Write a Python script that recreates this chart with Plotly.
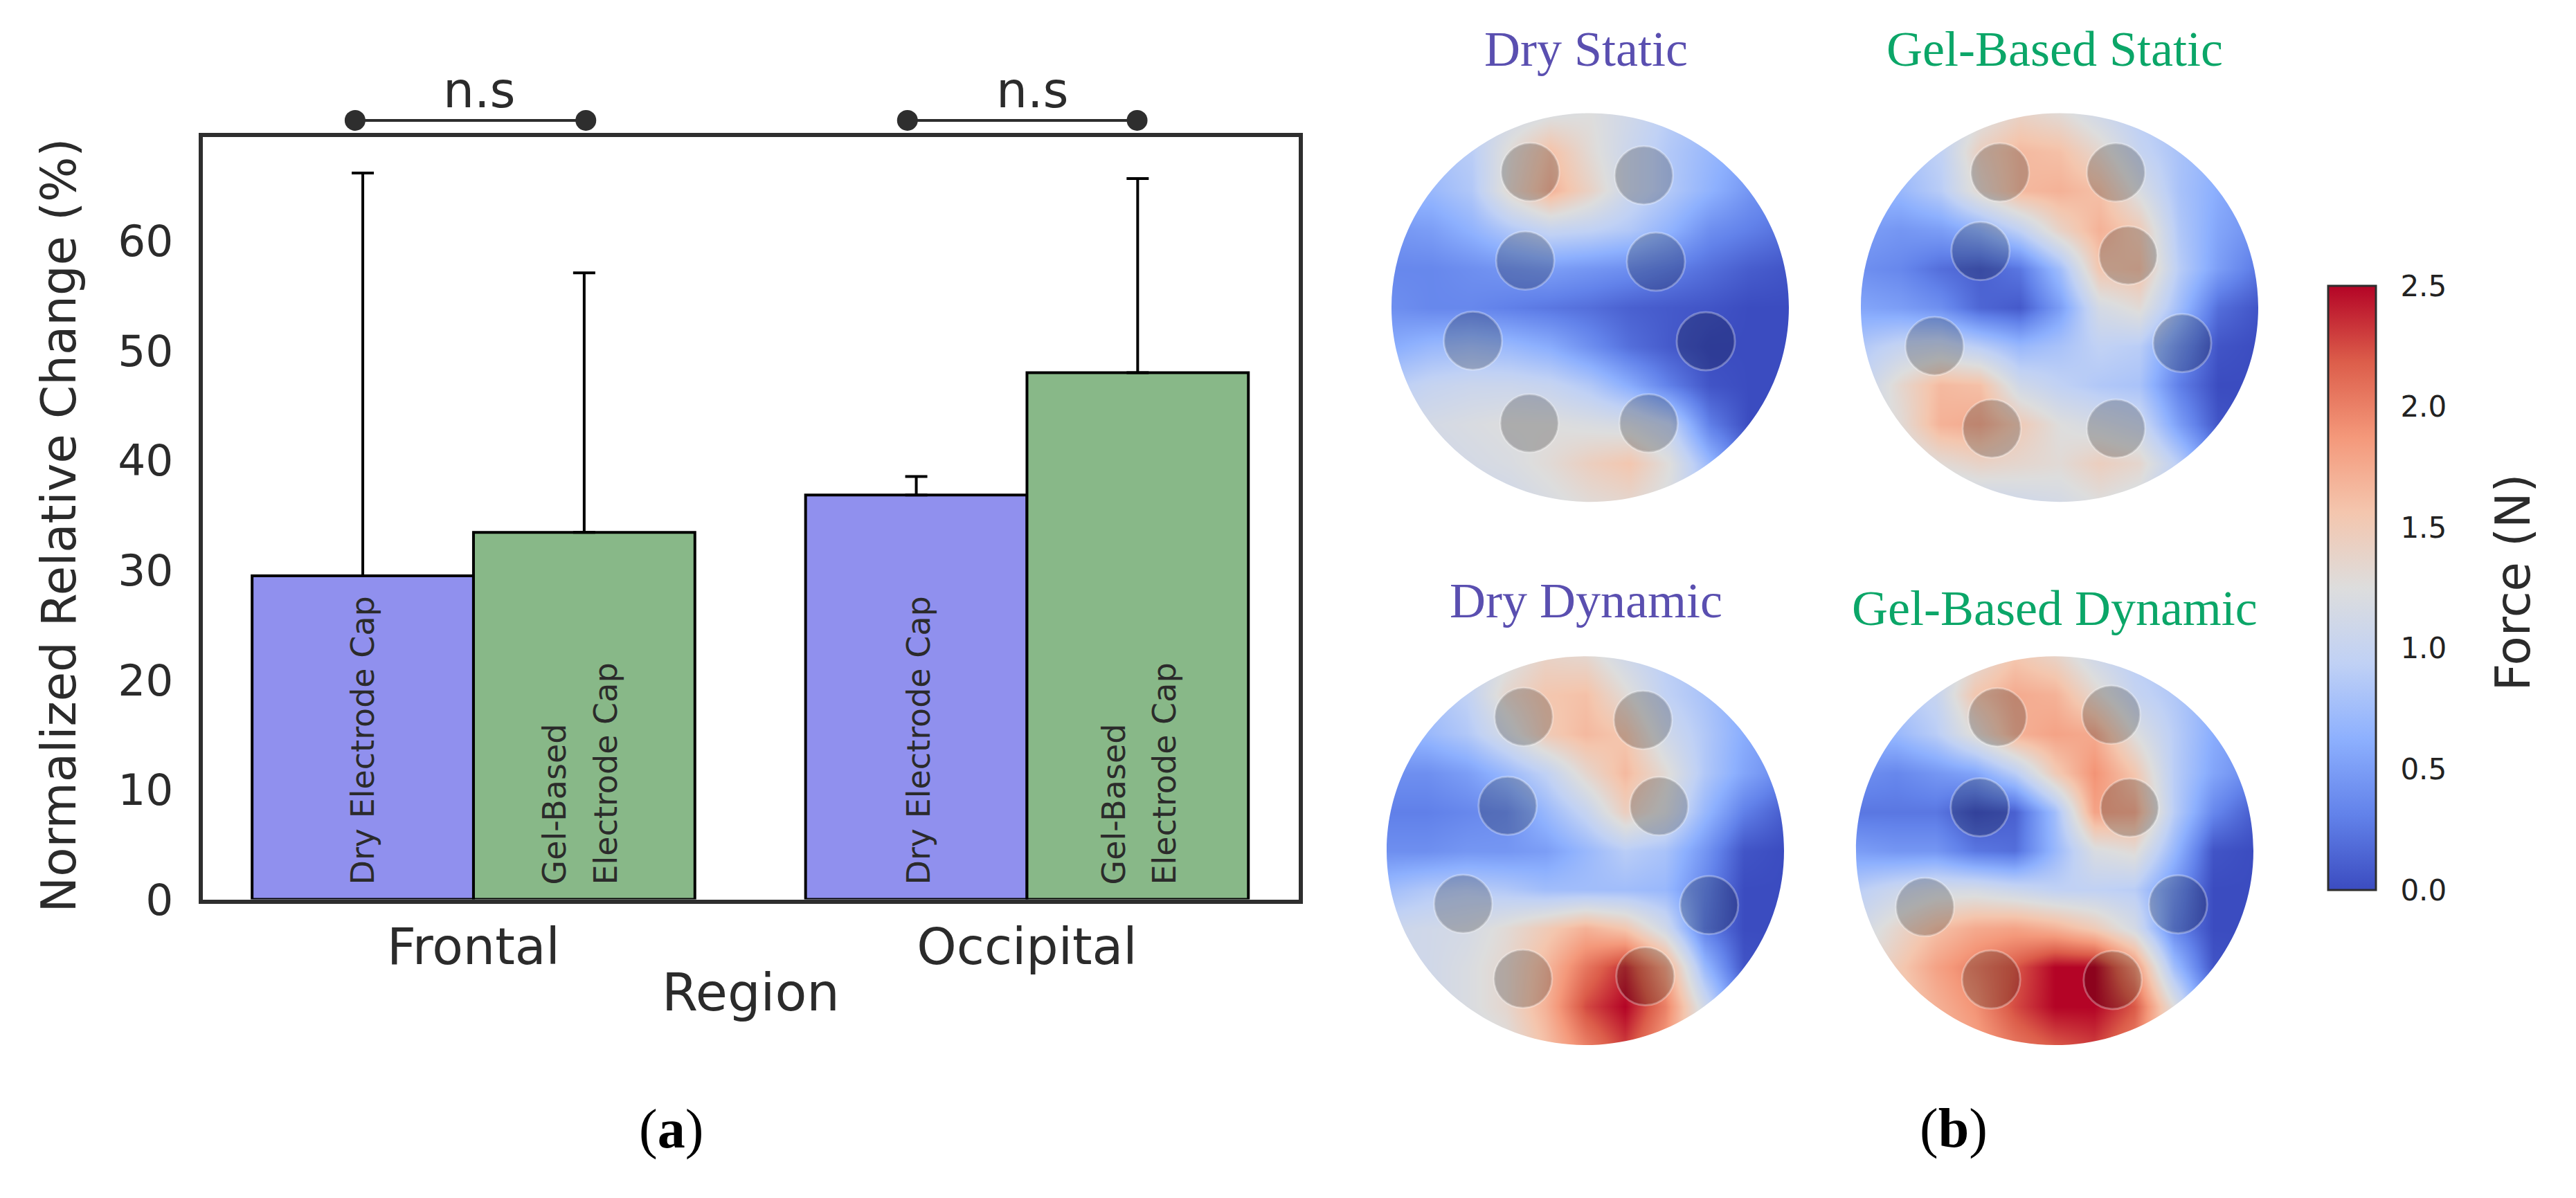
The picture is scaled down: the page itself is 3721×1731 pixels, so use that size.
import plotly.graph_objects as go

W, H = 3721, 1731

# ---- bar chart data ----
regions = ["Frontal", "Occipital"]
dry_values = [29.5, 36.85]
gel_values = [33.45, 48.0]
dry_errors = [36.7, 1.7]
gel_errors = [23.65, 17.7]
bracket_level = 71.0
bracket_frontal = [-0.214, 0.203]
bracket_occipital = [0.784, 1.199]

# ---- force maps: rows top to bottom, columns left to right ----
grid_x = [-1.0, -0.8, -0.6, -0.4, -0.2, 0.0, 0.2, 0.4, 0.6, 0.8, 1.0]
grid_y = [1.0, 0.8, 0.6, 0.4, 0.2, 0.0, -0.2, -0.4, -0.6, -0.8, -1.0]

dry_static = [
    [.9, .9, 1.0, 1.1, 1.2, 1.25, 1.1, .9, .8, .7, .6],
    [.8, .8, .9, 1.3, 1.6, 1.3, 1.05, .85, .7, .55, .45],
    [.7, .7, .85, 1.35, 1.7, 1.4, 1.05, .85, .65, .45, .35],
    [.45, .5, .65, .85, 1.0, .95, .85, .65, .4, .3, .2],
    [.35, .35, .4, .45, .5, .45, .4, .3, .2, .1, .05],
    [.4, .35, .35, .3, .25, .2, .12, .08, .05, 0, 0],
    [.6, .7, .75, .7, .6, .4, .2, .08, 0, 0, 0],
    [.9, 1.0, 1.05, 1.05, 1.0, .85, .6, .3, .05, 0, 0],
    [1.1, 1.15, 1.2, 1.25, 1.25, 1.2, 1.15, .95, .3, 0, 0],
    [1.1, 1.1, 1.15, 1.2, 1.3, 1.45, 1.55, 1.25, .7, .2, 0],
    [1.0, 1.0, 1.05, 1.1, 1.2, 1.3, 1.35, 1.2, .9, .5, .3],
]
gel_static = [
    [.9, .9, 1.0, 1.2, 1.4, 1.3, 1.1, .9, .8, .7, .6],
    [.8, .8, .95, 1.45, 1.65, 1.6, 1.35, 1.0, .8, .65, .5],
    [.65, .7, .9, 1.35, 1.65, 1.7, 1.6, 1.2, .8, .6, .45],
    [.5, .45, .5, .65, .95, 1.4, 1.7, 1.5, .85, .55, .4],
    [.4, .35, .2, .12, .25, .75, 1.55, 1.6, .9, .5, .25],
    [.55, .5, .4, .15, .08, .5, 1.15, 1.3, .75, .2, .05],
    [.85, 1.0, 1.05, .9, .7, .8, .95, .9, .45, .05, 0],
    [1.0, 1.35, 1.65, 1.6, 1.1, .95, .85, .8, .3, 0, 0],
    [1.1, 1.3, 1.7, 1.75, 1.5, 1.25, 1.15, 1.05, .5, .05, 0],
    [1.1, 1.15, 1.3, 1.4, 1.35, 1.3, 1.45, 1.35, .9, .35, .1],
    [1.0, 1.0, 1.0, 1.05, 1.1, 1.15, 1.25, 1.15, .85, .6, .4],
]
dry_dynamic = [
    [.9, .9, 1.0, 1.2, 1.4, 1.35, 1.1, .9, .8, .7, .6],
    [.8, .8, .95, 1.35, 1.55, 1.6, 1.3, .95, .8, .6, .5],
    [.65, .7, .85, 1.15, 1.5, 1.65, 1.55, 1.1, .85, .6, .45],
    [.4, .4, .5, .7, .95, 1.35, 1.65, 1.3, .85, .55, .35],
    [.3, .3, .35, .4, .7, 1.0, 1.45, 1.2, .7, .3, .1],
    [.4, .4, .45, .45, .5, .7, .9, .8, .45, .05, 0],
    [.75, .85, .9, .85, .75, .75, .75, .7, .35, 0, 0],
    [1.05, 1.1, 1.15, 1.3, 1.5, 1.7, 1.55, 1.1, .3, 0, 0],
    [1.1, 1.1, 1.2, 1.35, 1.65, 2.05, 2.35, 1.8, .7, .05, 0],
    [1.1, 1.1, 1.2, 1.35, 1.7, 2.25, 2.5, 2.0, 1.1, .3, 0],
    [1.0, 1.0, 1.1, 1.25, 1.6, 2.0, 2.3, 1.85, 1.2, .6, .3],
]
gel_dynamic = [
    [.9, .9, 1.0, 1.3, 1.55, 1.4, 1.1, .9, .8, .7, .6],
    [.8, .85, 1.0, 1.55, 1.75, 1.7, 1.35, 1.0, .85, .65, .5],
    [.65, .7, .9, 1.3, 1.7, 1.8, 1.75, 1.25, .9, .6, .45],
    [.4, .35, .45, .55, .9, 1.5, 1.9, 1.55, .9, .55, .35],
    [.25, .25, .25, .05, .12, .75, 1.8, 1.75, .9, .35, .1],
    [.5, .45, .45, .25, .2, .7, 1.2, 1.3, .7, .05, 0],
    [.9, 1.05, 1.15, 1.15, 1.05, .95, .95, .9, .45, 0, 0],
    [1.1, 1.35, 1.6, 1.75, 1.8, 1.7, 1.5, 1.15, .35, 0, 0],
    [1.2, 1.5, 1.8, 2.0, 2.2, 2.5, 2.5, 1.9, .75, .05, 0],
    [1.2, 1.45, 1.7, 1.9, 2.25, 2.5, 2.5, 2.2, 1.25, .3, 0],
    [1.1, 1.3, 1.6, 1.8, 2.05, 2.2, 2.3, 2.0, 1.3, .7, .3],
]

# electrode sites on each map
dry_static_x = [-.302, .27, -.327, .331, -.59, .582, -.306, .294]
dry_static_y = [.697, .68, .241, .236, -.171, -.173, -.595, -.595]
gel_static_x = [-.30, .284, -.398, .345, -.629, .617, -.341, .284]
gel_static_y = [.695, .695, .29, .268, -.198, -.183, -.623, -.623]
dry_dynamic_x = [-.31, .29, -.391, .371, -.615, .623, -.314, .302]
dry_dynamic_y = [.689, .673, .231, .229, -.274, -.28, -.659, -.646]
gel_dynamic_x = [-.288, .284, -.377, .377, -.653, .621, -.32, .292]
gel_dynamic_y = [.687, .699, .223, .221, -.29, -.276, -.663, -.665]

coolwarm = [
    [0.0, "#3b4cc0"], [0.125, "#6282ea"], [0.25, "#8db0fe"], [0.375, "#c0d1f5"],
    [0.5, "#dddddd"], [0.625, "#f4c6ae"], [0.75, "#f4987a"], [0.875, "#dc5d4a"],
    [1.0, "#b40426"],
]

INK = "#2b2b2b"
SANS = "DejaVu Sans"
SERIF = "Liberation Serif"
DRY_TITLE = "#5a4fb0"
GEL_TITLE = "#0ba668"


def fx(px):
    return px / W


def fy(px):
    return 1 - px / H


fig = go.Figure()

# ---- bars ----
centers = [0, 1]
dry_x = [c - 0.2 for c in centers]
gel_x = [c + 0.2 for c in centers]
err_style = dict(type="data", symmetric=False, color="black", thickness=4, width=16)
fig.add_trace(go.Bar(x=dry_x, y=dry_values, width=0.4, marker=dict(color="#9090ee", line=dict(color="black", width=4)),
                     error_y=dict(array=dry_errors, arrayminus=[0, 0], **err_style), showlegend=False))
fig.add_trace(go.Bar(x=gel_x, y=gel_values, width=0.4, marker=dict(color="#88b888", line=dict(color="black", width=4)),
                     error_y=dict(array=gel_errors, arrayminus=[0, 0], **err_style), showlegend=False))

X_RANGE = [-0.489, 1.491]
Y_TOP = 69.5
PLOT_TOP, PLOT_BOTTOM = 202, 1328

fig.update_layout(
    xaxis=dict(domain=[fx(293), fx(1876)], range=X_RANGE, tickvals=centers, ticktext=regions,
               showgrid=False, zeroline=False, showline=True, mirror=True, linecolor="#2e2e2e", linewidth=6,
               ticks="", tickfont=dict(family=SANS, size=73, color=INK),
               title=dict(text="Region", font=dict(family=SANS, size=75, color=INK), standoff=0)),
    yaxis=dict(domain=[fy(PLOT_BOTTOM), fy(PLOT_TOP)], range=[0, Y_TOP], tickvals=[0, 10, 20, 30, 40, 50, 60],
               showgrid=False, zeroline=False, showline=True, mirror=True, linecolor="#2e2e2e", linewidth=6,
               ticks="outside", ticklen=24, tickcolor="rgba(0,0,0,0)", tickfont=dict(family=SANS, size=63, color=INK)),
)

# ---- n.s brackets, on an invisible axis pair that keeps the bar scale but reaches above the frame ----
OVER_TOP = 120
over_top_value = Y_TOP * (PLOT_BOTTOM - OVER_TOP) / (PLOT_BOTTOM - PLOT_TOP)
fig.layout["xaxis6"] = dict(domain=[fx(293), fx(1876)], range=X_RANGE, visible=False, anchor="y6")
fig.layout["yaxis6"] = dict(domain=[fy(PLOT_BOTTOM), fy(OVER_TOP)], range=[0, over_top_value], visible=False, anchor="x6")
for xs in (bracket_frontal, bracket_occipital):
    fig.add_trace(go.Scatter(x=xs, y=[bracket_level, bracket_level], mode="lines+markers", xaxis="x6", yaxis="y6",
                             showlegend=False, line=dict(color="#2e2e2e", width=4),
                             marker=dict(color="#2e2e2e", size=30)))

# ---- force maps ----
R = 287
PAD = 1.15
maps = [
    (dry_static, dry_static_x, dry_static_y, 2297, 454),
    (gel_static, gel_static_x, gel_static_y, 2975, 454),
    (dry_dynamic, dry_dynamic_x, dry_dynamic_y, 2290, 1256),
    (gel_dynamic, gel_dynamic_x, gel_dynamic_y, 2968, 1256),
]
k = 0.5523
circle = (f"M -1.3 -1.3 L 1.3 -1.3 L 1.3 1.3 L -1.3 1.3 Z "
          f"M -1 0 C -1 {k} {-k} 1 0 1 C {k} 1 1 {k} 1 0 C 1 {-k} {k} -1 0 -1 C {-k} -1 -1 {-k} -1 0 Z")
shapes = []
for i, (z, ex, ey, cx, cy) in enumerate(maps):
    n = i + 2
    fig.add_trace(go.Heatmap(x=grid_x, y=grid_y[::-1], z=z[::-1], coloraxis="coloraxis", zsmooth="best",
                             xaxis=f"x{n}", yaxis=f"y{n}", showscale=False))
    fig.add_trace(go.Scatter(x=ex, y=ey, mode="markers", xaxis=f"x{n}", yaxis=f"y{n}", showlegend=False,
                             marker=dict(size=84, color="rgba(0,0,0,0.22)",
                                         line=dict(color="rgba(255,255,255,0.3)", width=3))))
    span = R * PAD
    fig.layout[f"xaxis{n}"] = dict(domain=[fx(cx - span), fx(cx + span)], range=[-PAD, PAD], visible=False, anchor=f"y{n}")
    fig.layout[f"yaxis{n}"] = dict(domain=[fy(cy + span), fy(cy - span)], range=[-PAD, PAD], visible=False, anchor=f"x{n}")
    shapes.append(dict(type="path", path=circle, xref=f"x{n}", yref=f"y{n}", fillcolor="white",
                       line=dict(width=0), layer="above"))

fig.update_layout(
    coloraxis=dict(cmin=0, cmax=2.5, colorscale=coolwarm, colorbar=dict(
        x=fx(3363), xanchor="left", xpad=0, ypad=0, y=fy(868), yanchor="middle", len=892 / H, lenmode="fraction",
        thickness=69, thicknessmode="pixels", outlinecolor="#2e2e2e", outlinewidth=3,
        tickvals=[0, 0.5, 1.0, 1.5, 2.0, 2.5], tickformat=".1f", ticks="outside", ticklen=26,
        tickcolor="rgba(0,0,0,0)", tickfont=dict(family=SANS, size=42, color="#222222"))),
    shapes=shapes,
)


def note(text, x, y, family, size, color, angle=0):
    fig.add_annotation(text=text, x=fx(x), y=fy(y), xref="paper", yref="paper", showarrow=False, textangle=angle,
                       font=dict(family=family, size=size, color=color), xanchor="center", yanchor="middle")


# y axis title
note("Normalized Relative Change (%)", 85, 776, SANS, 69, INK, angle=-90)

# bracket labels
note("n.s", 692, 133, SANS, 71, INK)
note("n.s", 1491, 133, SANS, 71, INK)

# colour bar title
note("Force (N)", 3630, 860, SANS, 69, INK, angle=-90)

# labels inside the bars
for x, t in [(524, "Dry Electrode Cap"), (1327, "Dry Electrode Cap"), (801, "Gel-Based"), (875, "Electrode Cap"),
             (1609, "Gel-Based"), (1682, "Electrode Cap")]:
    fig.add_annotation(text=t, x=fx(x), y=fy(1309), xref="paper", yref="paper", showarrow=False, textangle=-90,
                       font=dict(family=SANS, size=46, color=INK), xanchor="center", yanchor="bottom")

# map titles
note("Dry Static", 2291, 73, SERIF, 72, DRY_TITLE)
note("Gel-Based Static", 2968, 73, SERIF, 72, GEL_TITLE)
note("Dry Dynamic", 2291, 887, SERIF, 72, DRY_TITLE)
note("Gel-Based Dynamic", 2968, 898, SERIF, 72, GEL_TITLE)

# panel tags
note("(<b>a</b>)", 969, 1667, SERIF, 80, "black")
note("(<b>b</b>)", 2822, 1666, SERIF, 80, "black")

fig.update_layout(width=W, height=H, margin=dict(l=0, r=0, t=0, b=0), paper_bgcolor="white",
                  plot_bgcolor="rgba(0,0,0,0)", barmode="overlay", showlegend=False)

fig.write_html("out.html", config={"displayModeBar": False}, post_script="document.body.style.margin='0';")
